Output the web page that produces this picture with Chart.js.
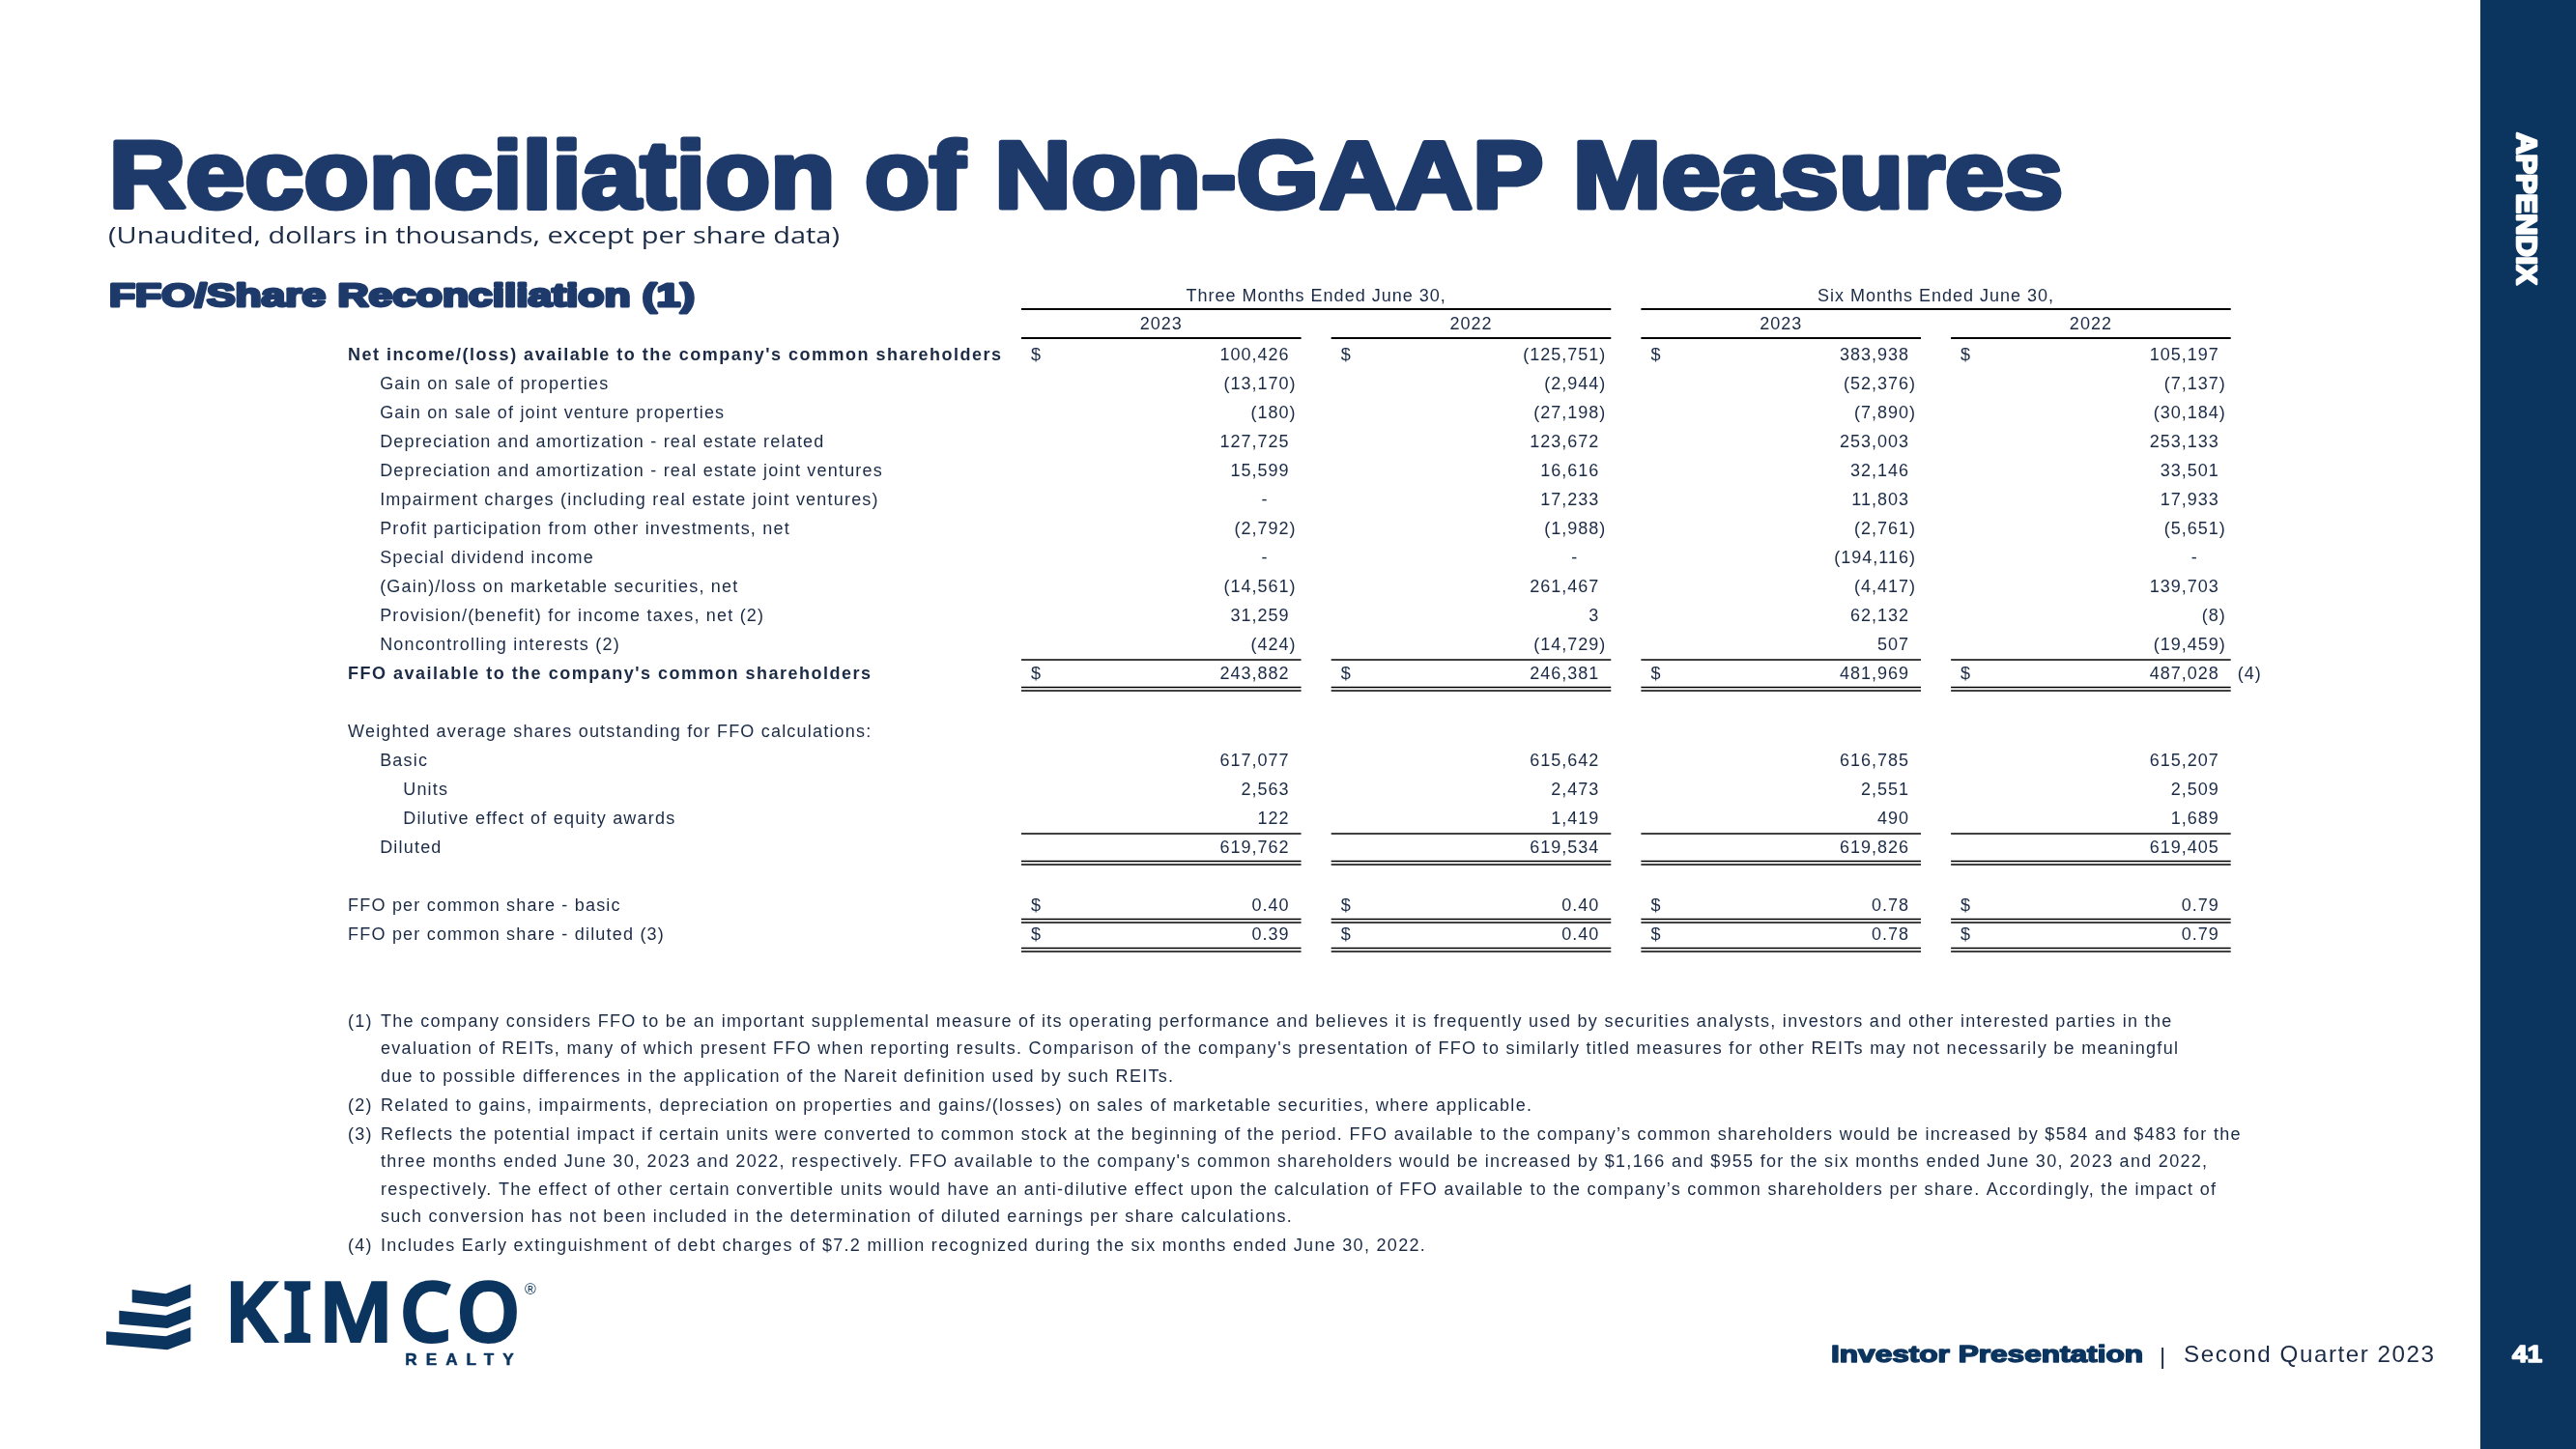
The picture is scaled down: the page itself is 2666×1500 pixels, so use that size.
<!DOCTYPE html>
<html>
<head>
<meta charset="utf-8">
<title>Reconciliation of Non-GAAP Measures</title>
<script src="https://cdn.jsdelivr.net/npm/chart.js@4.4.0/dist/chart.umd.min.js"></script>
<style>
  html, body { margin: 0; padding: 0; background: #fff; overflow: hidden; }
  canvas { display: block; }
</style>
</head>
<body>
<canvas id="slide" width="2666" height="1500"></canvas>
<script>
// ---- table data (dollars in thousands, per share rows in dollars) ----
const rowLabels = [
  "Net income/(loss) available to the company's common shareholders",
  'Gain on sale of properties',
  'Gain on sale of joint venture properties',
  'Depreciation and amortization - real estate related',
  'Depreciation and amortization - real estate joint ventures',
  'Impairment charges (including real estate joint ventures)',
  'Profit participation from other investments, net',
  'Special dividend income',
  '(Gain)/loss on marketable securities, net',
  'Provision/(benefit) for income taxes, net (2)',
  'Noncontrolling interests (2)',
  "FFO available to the company's common shareholders",
  '',
  'Weighted average shares outstanding for FFO calculations:',
  'Basic',
  'Units',
  'Dilutive effect of equity awards',
  'Diluted',
  '',
  'FFO per common share - basic',
  'FFO per common share - diluted (3)'
];
// head = bold with $, item = indented, total = bold with $ and rules,
// section = plain heading, sub = second level, subtotal = ruled, pershare = $ and 2 decimals
const rowKind = ['head', 'item', 'item', 'item', 'item', 'item', 'item', 'item', 'item', 'item', 'item',
  'total', 'blank', 'section', 'item', 'sub', 'sub', 'subtotal', 'blank', 'pershare', 'pershare'];

const groupHeaders = ['Three Months Ended June 30,', 'Six Months Ended June 30,'];
const columnYears = ['2023', '2022', '2023', '2022'];

const q2_2023 = [100426, -13170, -180, 127725, 15599, 0, -2792, 0, -14561, 31259, -424, 243882,
  null, null, 617077, 2563, 122, 619762, null, 0.40, 0.39];
const q2_2022 = [-125751, -2944, -27198, 123672, 16616, 17233, -1988, 0, 261467, 3, -14729, 246381,
  null, null, 615642, 2473, 1419, 619534, null, 0.40, 0.40];
const ytd_2023 = [383938, -52376, -7890, 253003, 32146, 11803, -2761, -194116, -4417, 62132, 507, 481969,
  null, null, 616785, 2551, 490, 619826, null, 0.78, 0.78];
const ytd_2022 = [105197, -7137, -30184, 253133, 33501, 17933, -5651, 0, 139703, -8, -19459, 487028,
  null, null, 615207, 2509, 1689, 619405, null, 0.79, 0.79];
const cellNote = { series: 3, row: 11, text: '(4)' };

const footnoteMarks = ['(1)', '', '', '(2)', '(3)', '', '', '', '(4)'];
const footnoteLines = [
  'The company considers FFO to be an important supplemental measure of its operating performance and believes it is frequently used by securities analysts, investors and other interested parties in the',
  "evaluation of REITs, many of which present FFO when reporting results. Comparison of the company's presentation of FFO to similarly titled measures for other REITs may not necessarily be meaningful",
  'due to possible differences in the application of the Nareit definition used by such REITs.',
  'Related to gains, impairments, depreciation on properties and gains/(losses) on sales of marketable securities, where applicable.',
  'Reflects the potential impact if certain units were converted to common stock at the beginning of the period. FFO available to the company\u2019s common shareholders would be increased by $584 and $483 for the',
  "three months ended June 30, 2023 and 2022, respectively. FFO available to the company's common shareholders would be increased by $1,166 and $955 for the six months ended June 30, 2023 and 2022,",
  'respectively. The effect of other certain convertible units would have an anti-dilutive effect upon the calculation of FFO available to the company\u2019s common shareholders per share. Accordingly, the impact of',
  'such conversion has not been included in the determination of diluted earnings per share calculations.',
  'Includes Early extinguishment of debt charges of $7.2 million recognized during the six months ended June 30, 2022.'
];

const seriesList = [q2_2023, q2_2022, ytd_2023, ytd_2022];

// ---- look ----
const NAVY = '#0b345f';
const TITLE = '#1e3a6a';
const INK = '#1b2b46';
const FONT = '"Liberation Sans", Arial, sans-serif';
const COL_W = 0.903;        // column width in column units (pitch = 1)
const LABEL_X = -2.173;     // x of row labels in column units
const INDENT = { head: 0, total: 0, section: 0, pershare: 0, item: 0.103, subtotal: 0.103, sub: 0.178, blank: 0 };

function fmt(v, dec) {
  if (v === 0) return '-';
  const s = Math.abs(v).toLocaleString('en-US', { minimumFractionDigits: dec, maximumFractionDigits: dec });
  return v < 0 ? '(' + s + ')' : s;
}

// heavy text squeezed/stretched to a target width
function heavyText(ctx, text, x, y, size, width, color, stroke, spacing) {
  ctx.save();
  ctx.font = `bold ${size}px ${FONT}`;
  ctx.letterSpacing = (spacing || 0) + 'px';
  const w = ctx.measureText(text).width - (spacing || 0);
  ctx.translate(x, y);
  ctx.scale(width / (w + stroke), 1);
  ctx.fillStyle = color;
  ctx.strokeStyle = color;
  ctx.lineWidth = stroke;
  ctx.lineJoin = 'round';
  ctx.textBaseline = 'alphabetic';
  ctx.textAlign = 'left';
  ctx.fillText(text, stroke / 2, 0);
  if (stroke > 0) ctx.strokeText(text, stroke / 2, 0);
  ctx.restore();
}

function plainText(ctx, text, x, y, font, width, color, spacing) {
  ctx.save();
  ctx.font = font;
  ctx.letterSpacing = (spacing || 0) + 'px';
  const w = ctx.measureText(text).width - (spacing || 0);
  ctx.translate(x, y);
  if (width) ctx.scale(width / w, 1);
  ctx.fillStyle = color;
  ctx.textBaseline = 'alphabetic';
  ctx.textAlign = 'left';
  ctx.fillText(text, 0, 0);
  ctx.restore();
}

function hline(ctx, x1, x2, y, lw) {
  ctx.beginPath();
  ctx.lineWidth = lw;
  ctx.strokeStyle = '#000';
  ctx.moveTo(x1, y);
  ctx.lineTo(x2, y);
  ctx.stroke();
}

// slide furniture: band, titles, footnotes, footer, logo
const slidePlugin = {
  id: 'slide',
  beforeDraw(chart) {
    const ctx = chart.ctx;
    ctx.save();
    ctx.fillStyle = '#fff';
    ctx.fillRect(0, 0, chart.width, chart.height);
    ctx.fillStyle = NAVY;
    ctx.fillRect(2567, 0, 99, 1500);

    // vertical APPENDIX
    ctx.save();
    ctx.translate(2605, 136);
    ctx.rotate(Math.PI / 2);
    heavyText(ctx, 'APPENDIX', 0, 0, 30, 160, '#fff', 2.5);
    ctx.restore();

    heavyText(ctx, 'Reconciliation of Non-GAAP Measures', 110, 215, 98, 2028, TITLE, 5);
    plainText(ctx, '(Unaudited, dollars in thousands, except per share data)', 112, 252,
      '23px "Open Sans", sans-serif', 757, INK, 0);
    heavyText(ctx, 'FFO/Share Reconciliation (1)', 111, 317, 34, 610, TITLE, 3);

    // footnotes
    ctx.font = `18px ${FONT}`;
    ctx.letterSpacing = '1.3px';
    ctx.fillStyle = INK;
    ctx.textBaseline = 'middle';
    let y = 1058;
    footnoteLines.forEach((line, i) => {
      if (i > 0) y += footnoteMarks[i] ? 30 : 28.5;
      if (footnoteMarks[i]) ctx.fillText(footnoteMarks[i], 360, y);
      ctx.fillText(line, 394, y);
    });
    ctx.letterSpacing = '0px';
    ctx.textBaseline = 'alphabetic';

    // footer
    heavyText(ctx, 'Investor Presentation', 1894, 1410, 24, 325, NAVY, 1.5);
    plainText(ctx, '|', 2235, 1412, `24px ${FONT}`, 0, INK, 0);
    plainText(ctx, 'Second Quarter 2023', 2260, 1410, `24px ${FONT}`, 259, INK, 1.5);
    heavyText(ctx, '41', 2599, 1410, 24, 33, '#fff', 1.5);

    // logo mark
    ctx.fillStyle = NAVY;
    const stripes = [
      [[136.7, 1335], [171.7, 1339.3], [197.3, 1329.3], [197.3, 1343.3], [173.3, 1352.7], [136.7, 1348.3]],
      [[123.3, 1356.7], [171.7, 1361.7], [197.3, 1351.7], [197.3, 1365.7], [173.3, 1375], [123.3, 1370.7]],
      [[110, 1378.3], [171.7, 1383.3], [197.3, 1374], [197.3, 1388.3], [173.3, 1397.3], [110, 1391.7]]
    ];
    stripes.forEach(poly => {
      ctx.beginPath();
      poly.forEach((p, i) => (i ? ctx.lineTo(p[0], p[1]) : ctx.moveTo(p[0], p[1])));
      ctx.closePath();
      ctx.fill();
    });
    ctx.save();
    ctx.font = `500 84px "Noto Sans", sans-serif`;
    ctx.letterSpacing = '8px';
    ctx.textBaseline = 'alphabetic';
    ctx.fillStyle = NAVY;
    ctx.strokeStyle = NAVY;
    ctx.lineWidth = 4;
    const kw = ctx.measureText('KIMCO').width - 8;
    ctx.translate(233, 1388);
    ctx.scale(305 / kw, 1);
    ctx.fillText('KIMCO', 0, 0);
    ctx.strokeText('KIMCO', 0, 0);
    ctx.restore();
    plainText(ctx, '\u00AE', 543, 1340, `16px ${FONT}`, 0, NAVY, 0);
    heavyText(ctx, 'REALTY', 419, 1413, 17, 113, NAVY, 0.5, 9);
    ctx.restore();
  }
};

// table text and rules, placed from the chart's scales / point elements
const tablePlugin = {
  id: 'table',
  afterDatasetsDraw(chart) {
    const ctx = chart.ctx;
    const xs = chart.scales.x;
    const ys = chart.scales.y;
    ctx.save();
    ctx.fillStyle = INK;
    ctx.textBaseline = 'middle';
    ctx.letterSpacing = '1px';
    ctx.font = `18px ${FONT}`;

    // group headers and years
    groupHeaders.forEach((h, g) => {
      const l = xs.getPixelForValue(g * 2), r = xs.getPixelForValue(g * 2 + 1 + COL_W);
      ctx.textAlign = 'center';
      ctx.fillText(h, (l + r) / 2, ys.getPixelForValue(-2.03));
      hline(ctx, l, r, ys.getPixelForValue(-1.6), 2.2);
    });
    columnYears.forEach((yr, c) => {
      const l = xs.getPixelForValue(c), r = xs.getPixelForValue(c + COL_W);
      ctx.textAlign = 'center';
      ctx.fillText(yr, (l + r) / 2, ys.getPixelForValue(-1.08));
      hline(ctx, l, r, ys.getPixelForValue(-0.6), 2.2);
    });

    const parenW = ctx.measureText(')').width;
    const digitW = ctx.measureText('0').width;

    // values
    seriesList.forEach((vals, c) => {
      const meta = chart.getDatasetMeta(c);
      const ds = chart.data.datasets[c];
      const left = xs.getPixelForValue(c);
      meta.data.forEach((el, i) => {
        const pt = ds.data[i];
        const kind = rowKind[pt.y];
        const txt = fmt(pt.v, kind === 'pershare' ? 2 : 0);
        const R = el.x - 5;
        let x = R;
        if (pt.v > 0) x = R - parenW;
        if (pt.v === 0) x = R - parenW - 2 * digitW;
        ctx.textAlign = 'right';
        ctx.fillText(txt, x, el.y);
        if (kind === 'head' || kind === 'total' || kind === 'pershare') {
          ctx.textAlign = 'left';
          ctx.fillText('$', left + 10, el.y);
        }
        if (cellNote.series === c && cellNote.row === pt.y) {
          ctx.textAlign = 'left';
          ctx.fillText(cellNote.text, el.x + 7, el.y);
        }
      });
      // rules
      const r = xs.getPixelForValue(c + COL_W);
      rowKind.forEach((kind, row) => {
        const y = ys.getPixelForValue(row);
        if (kind === 'total' || kind === 'subtotal') hline(ctx, left, r, y - 15, 1.3);
        if (kind === 'total' || kind === 'subtotal' || kind === 'pershare') {
          hline(ctx, left, r, y + 13.5, 1.5);
          hline(ctx, left, r, y + 17, 1.5);
        }
      });
    });

    // row labels
    const lab = chart.getDatasetMeta(seriesList.length);
    lab.data.forEach((el, i) => {
      const row = chart.data.datasets[seriesList.length].data[i].y;
      const kind = rowKind[row];
      const bold = kind === 'head' || kind === 'total';
      ctx.font = `${bold ? 'bold ' : ''}18px ${FONT}`;
      ctx.letterSpacing = bold ? '1.5px' : '1.2px';
      ctx.textAlign = 'left';
      ctx.fillText(rowLabels[row], el.x, el.y);
    });
    ctx.restore();
  }
};

const datasets = seriesList.map((vals, c) => ({
  label: groupHeaders[Math.floor(c / 2)] + ' ' + columnYears[c],
  data: vals.map((v, r) => (v === null ? null : { x: c + COL_W, y: r, v: v })).filter(p => p),
  pointRadius: 0
}));
datasets.push({
  label: 'rows',
  data: rowLabels.map((t, r) => (t ? { x: LABEL_X + INDENT[rowKind[r]], y: r } : null)).filter(p => p),
  pointRadius: 0
});

new Chart(document.getElementById('slide'), {
  type: 'scatter',
  data: { datasets: datasets },
  options: {
    responsive: false,
    animation: false,
    events: [],
    layout: { padding: { left: 335.4, right: 326.2, top: 293, bottom: 502 } },
    scales: {
      x: { type: 'linear', min: -2.25, max: 4, display: false },
      y: { type: 'linear', min: -2.5, max: 21, reverse: true, display: false }
    },
    plugins: { legend: { display: false }, tooltip: { enabled: false } }
  },
  plugins: [slidePlugin, tablePlugin]
});
</script>
</body>
</html>
